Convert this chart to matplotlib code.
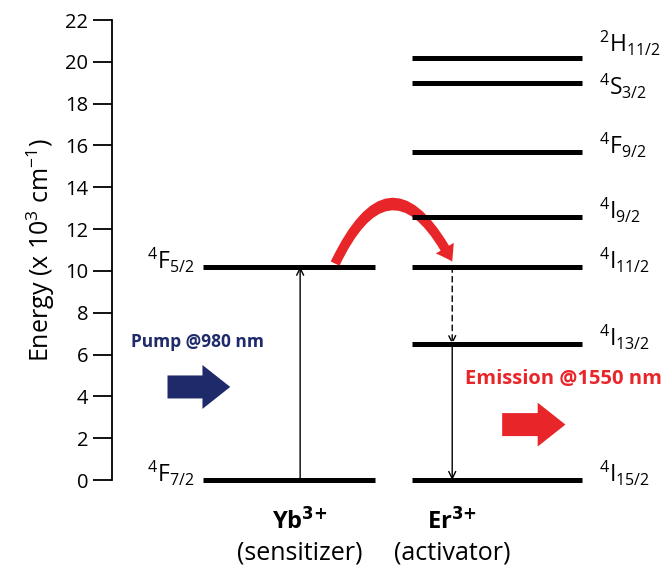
import numpy as np
import matplotlib.pyplot as plt
from matplotlib.patches import FancyArrowPatch, FancyArrow

plt.rcParams['font.family'] = ['Open Sans', 'DejaVu Sans']
plt.rcParams['mathtext.default'] = 'regular'

# energy levels (x 10^3 cm^-1)
yb_levels = [0.0, 10.2]
yb_labels = [r'$^4$F$_{7/2}$', r'$^4$F$_{5/2}$']
er_levels = [0.0, 6.5, 10.2, 12.6, 15.7, 19.0, 20.2]
er_labels = [r'$^4$I$_{15/2}$', r'$^4$I$_{13/2}$', r'$^4$I$_{11/2}$', r'$^4$I$_{9/2}$',
             r'$^4$F$_{9/2}$', r'$^4$S$_{3/2}$', r'$^2$H$_{11/2}$']
er_label_shift = [0, 0, 0, 0, 0, -0.5, 0.4]
yticks = np.arange(0, 23, 2)

navy = '#1f2a6b'
red = '#e8262a'

fig = plt.figure(figsize=(6.67, 5.76), dpi=100)
ax = fig.add_axes([112 / 667, 96 / 576, 555 / 667, 460 / 576])
ax.set_xlim(0, 10)
ax.set_ylim(0, 22)

for s in ['top', 'right', 'bottom']:
    ax.spines[s].set_visible(False)
ax.spines['left'].set_linewidth(1.3)
ax.set_xticks([])
ax.set_yticks(yticks)
ax.tick_params(axis='y', direction='out', length=14, width=1.3, labelsize=14.5, pad=3)
ax.set_ylabel(r'Energy (x 10$^3$ cm$^{-1}$)', fontsize=18, labelpad=6)

# Yb levels
yb_x = (1.64, 4.74)
for lev, lab in zip(yb_levels, yb_labels):
    ax.plot(yb_x, [lev, lev], color='black', lw=3.6, solid_capstyle='butt', clip_on=False)
    ax.text(yb_x[0] - 0.15, lev + 0.3, lab, fontsize=16.5, ha='right', va='center')

# Er levels
er_x = (5.4, 8.47)
for lev, lab, sh in zip(er_levels, er_labels, er_label_shift):
    ax.plot(er_x, [lev, lev], color='black', lw=3.6, solid_capstyle='butt', clip_on=False)
    ax.text(er_x[1] + 0.3, lev + 0.3 + sh, lab, fontsize=16.5, ha='left', va='center')

# absorption on Yb
arrow_kw = dict(arrowstyle='->,head_length=0.5,head_width=0.25', color='black', lw=1.0,
                shrinkA=0, shrinkB=0)
ax.annotate('', xy=(3.39, yb_levels[1]), xytext=(3.39, yb_levels[0]), arrowprops=arrow_kw)
# non-radiative relaxation and emission on Er
ax.annotate('', xy=(6.13, er_levels[1]), xytext=(6.13, er_levels[2]),
            arrowprops=dict(arrow_kw, ls=(0, (4, 3))))
ax.annotate('', xy=(6.13, er_levels[0]), xytext=(6.13, er_levels[1]), arrowprops=arrow_kw)

# energy transfer arrow
et = FancyArrowPatch((4.02, 10.35), (6.13, 10.45), connectionstyle='arc3,rad=-1.0',
                     arrowstyle='simple,head_width=15,head_length=11,tail_width=7',
                     color=red, lw=0, mutation_scale=1, shrinkA=0, shrinkB=0)
ax.add_patch(et)

# pump and emission block arrows
ax.add_patch(FancyArrow(1.0, 4.45, 1.13, 0, width=1.1, head_width=2.1, head_length=0.5,
                        length_includes_head=True, color=navy, lw=0))
ax.text(0.34, 6.6, 'Pump @980 nm', color=navy, fontsize=12.5, fontweight='bold', va='center')

ax.add_patch(FancyArrow(7.03, 2.65, 1.14, 0, width=1.1, head_width=2.1, head_length=0.5,
                        length_includes_head=True, color=red, lw=0))
ax.text(6.36, 4.85, 'Emission @1550 nm', color=red, fontsize=14.5, fontweight='bold', va='center')

# ion labels
ax.text(3.39, -2.0, r'Yb$^{\mathbf{3{+}}}$', fontsize=17, fontweight='bold', ha='center', va='center')
ax.text(3.39, -3.5, '(sensitizer)', fontsize=18, ha='center', va='center')
ax.text(6.13, -2.0, r'Er$^{\mathbf{3{+}}}$', fontsize=17, fontweight='bold', ha='center', va='center')
ax.text(6.13, -3.5, '(activator)', fontsize=18, ha='center', va='center')

fig.savefig('out.png', dpi=100)
